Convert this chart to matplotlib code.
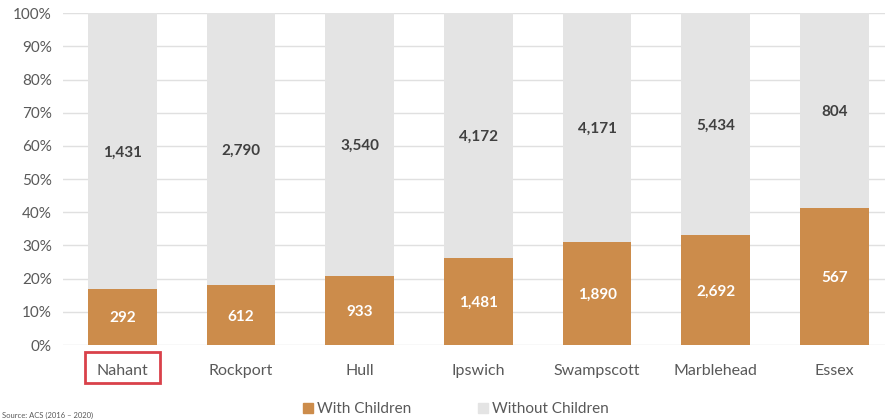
import matplotlib
matplotlib.use("Agg")
import matplotlib.pyplot as plt
from matplotlib.patches import Rectangle
import numpy as np

plt.rcParams['font.family'] = ['Lato', 'DejaVu Sans']

towns = ["Nahant", "Rockport", "Hull", "Ipswich", "Swampscott", "Marblehead", "Essex"]
with_children = [292, 612, 933, 1481, 1890, 2692, 567]
without_children = [1431, 2790, 3540, 4172, 4171, 5434, 804]
yticks = [0, 10, 20, 30, 40, 50, 60, 70, 80, 90, 100]

c_with = "#CC8C4B"
c_without = "#E4E4E4"
txt_gray = "#595959"

W, H = 885, 419
fig = plt.figure(figsize=(W / 100, H / 100), dpi=100)
ax = fig.add_axes([63 / W, (H - 345) / H, (885 - 63) / W, (345 - 13.3) / H])

wc = np.array(with_children, dtype=float)
woc = np.array(without_children, dtype=float)
tot = wc + woc
p_with = wc / tot * 100
p_without = woc / tot * 100
x = np.arange(len(towns))

ax.bar(x, p_with, width=0.58, color=c_with, zorder=3)
ax.bar(x, p_without, bottom=p_with, width=0.58, color=c_without, zorder=3)

for i in range(len(towns)):
    ax.text(x[i], p_with[i] / 2, f"{with_children[i]:,}", ha="center", va="center_baseline",
            color="white", fontsize=11, fontweight="bold", zorder=4)
    ax.text(x[i], p_with[i] + p_without[i] / 2, f"{without_children[i]:,}", ha="center",
            va="center_baseline", color="#404040", fontsize=11, fontweight="bold", zorder=4)

ax.set_xlim(-0.5, 6.426)
ax.set_ylim(0, 100)
ax.set_yticks(yticks)
ax.set_yticklabels([f"{v}%" for v in yticks], fontsize=11, color=txt_gray)
ax.set_xticks(x)
ax.set_xticklabels(towns, fontsize=11.5, color=txt_gray)
ax.tick_params(axis="both", length=0)
ax.tick_params(axis="x", pad=14)
ax.tick_params(axis="y", pad=8)
ax.grid(axis="y", color="#E0E0E0", linewidth=1, zorder=0)
for s in ax.spines.values():
    s.set_visible(False)

# Red highlight box around Nahant label
fig.patches.append(Rectangle((85 / W, (H - 383) / H), 75 / W, 31 / H,
                             transform=fig.transFigure, fill=False,
                             edgecolor="#D9414A", linewidth=2))

# Legend
fig.patches.append(Rectangle((303 / W, (H - 413) / H), 10 / W, 10 / H,
                             transform=fig.transFigure, color=c_with))
fig.text(317 / W, (H - 409) / H, "With Children", fontsize=11, color=txt_gray, va="center")
fig.patches.append(Rectangle((478 / W, (H - 413) / H), 10 / W, 10 / H,
                             transform=fig.transFigure, color=c_without))
fig.text(492 / W, (H - 409) / H, "Without Children", fontsize=11, color=txt_gray, va="center")

fig.text(2 / W, (H - 415) / H, "Source: ACS (2016 \u2013 2020)", fontsize=5.5,
         color=txt_gray, va="center")

fig.savefig("out.png", dpi=100)
